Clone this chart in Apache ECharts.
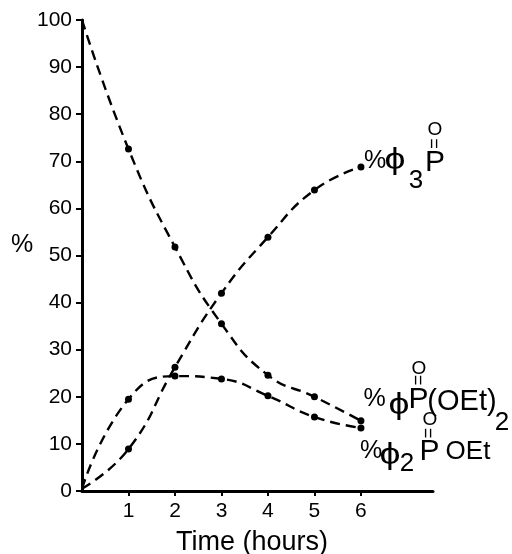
<!DOCTYPE html>
<html>
<head>
<meta charset="utf-8">
<script src="https://cdn.jsdelivr.net/npm/echarts@6/dist/echarts.min.js"></script>
<style>
html,body{margin:0;padding:0;background:#fff;}
#c{width:512px;height:554px;}
</style>
</head>
<body>
<div id="c"></div>
<script>
// Data
const hours = [0, 1, 2, 3, 4, 5, 6];
const xTicks = [1, 2, 3, 4, 5, 6];
const phenylPhosphonate = [100, 72.6, 51.8, 35.5, 24.6, 20.0, 14.9];   // %φP(=O)(OEt)2
const triphenylOxide = [0.5, 8.9, 26.3, 42.0, 53.9, 63.9, 68.8];       // %φ3P=O
const diphenylPhosphinate = [0.5, 19.5, 24.4, 23.8, 20.2, 15.7, 13.4]; // %φ2P(=O)OEt

const FONT = '"Liberation Sans", "DejaVu Sans", sans-serif';

function pairs(ys) {
  return hours.map(function (h, i) {
    const item = { value: [h, ys[i]] };
    if (h === 0) { item.symbolSize = 0; }
    return item;
  });
}

function lineSeries(name, ys) {
  return {
    name: name,
    type: 'line',
    data: pairs(ys),
    smooth: 0.5,
    symbol: 'circle',
    symbolSize: 7,
    showSymbol: true,
    itemStyle: { color: '#000' },
    lineStyle: { color: '#000', width: 2.4, type: [10, 6] },
    emphasis: { disabled: true },
    z: 3
  };
}

function t(x, y, text, size, extra) {
  const el = {
    type: 'text',
    x: x,
    y: y,
    style: {
      text: text,
      font: size + 'px ' + FONT,
      fill: '#000',
      textAlign: 'center',
      textVerticalAlign: 'middle'
    },
    z: 10
  };
  if (extra) { Object.assign(el, extra); }
  return el;
}
const VERT = { rotation: Math.PI / 2 };
const WIDE = { scaleX: 1.25 };

const chart = echarts.init(document.getElementById('c'), null, { renderer: 'canvas' });
chart.setOption({
  animation: false,
  backgroundColor: '#fff',
  grid: { left: 82, top: 20, right: 79, bottom: 63, containLabel: false },
  xAxis: {
    type: 'value',
    min: 0,
    max: 7.55,
    axisLine: { show: true, lineStyle: { color: '#000', width: 3 } },
    axisTick: { show: true, inside: false, length: 5, customValues: xTicks, lineStyle: { color: '#000', width: 2 } },
    axisLabel: { show: true, customValues: xTicks, margin: 10, color: '#000', fontSize: 21, fontFamily: FONT },
    splitLine: { show: false }
  },
  yAxis: {
    type: 'value',
    min: 0,
    max: 100,
    interval: 10,
    axisLine: { show: true, lineStyle: { color: '#000', width: 3 } },
    axisTick: { show: true, inside: false, length: 6, lineStyle: { color: '#000', width: 2 } },
    axisLabel: { show: true, margin: 10, color: '#000', fontSize: 21, fontFamily: FONT },
    splitLine: { show: false }
  },
  series: [
    lineSeries('φP(O)(OEt)2', phenylPhosphonate),
    lineSeries('φ3PO', triphenylOxide),
    lineSeries('φ2P(O)OEt', diphenylPhosphinate)
  ],
  graphic: [
    // axis titles
    t(22, 245, '%', 25),
    t(252, 543, 'Time (hours)', 27),
    // %φ3P=O
    t(375, 161, '%', 25),
    t(395, 161, 'ϕ', 30, WIDE),
    t(416, 181, '3', 26),
    t(435, 163, 'P', 30),
    t(435, 143.5, '=', 18, VERT),
    t(435, 130, 'O', 19),
    // %φP(=O)(OEt)2
    t(374.5, 399, '%', 25),
    t(399, 406, 'ϕ', 30, WIDE),
    t(418.5, 400, 'P', 30),
    t(462, 402, '(OEt)', 29),
    t(502, 423, '2', 26),
    t(419, 380, '=', 18, VERT),
    t(419, 368.5, 'O', 19),
    // %φ2P(=O)OEt
    t(371, 451, '%', 25),
    t(390, 456, 'ϕ', 30, WIDE),
    t(407, 464, '2', 26),
    t(429.5, 451.5, 'P', 30),
    t(468, 451.5, 'OEt', 26),
    t(429.5, 433, '=', 18, VERT),
    t(430, 420, 'O', 19)
  ]
});
</script>
</body>
</html>
